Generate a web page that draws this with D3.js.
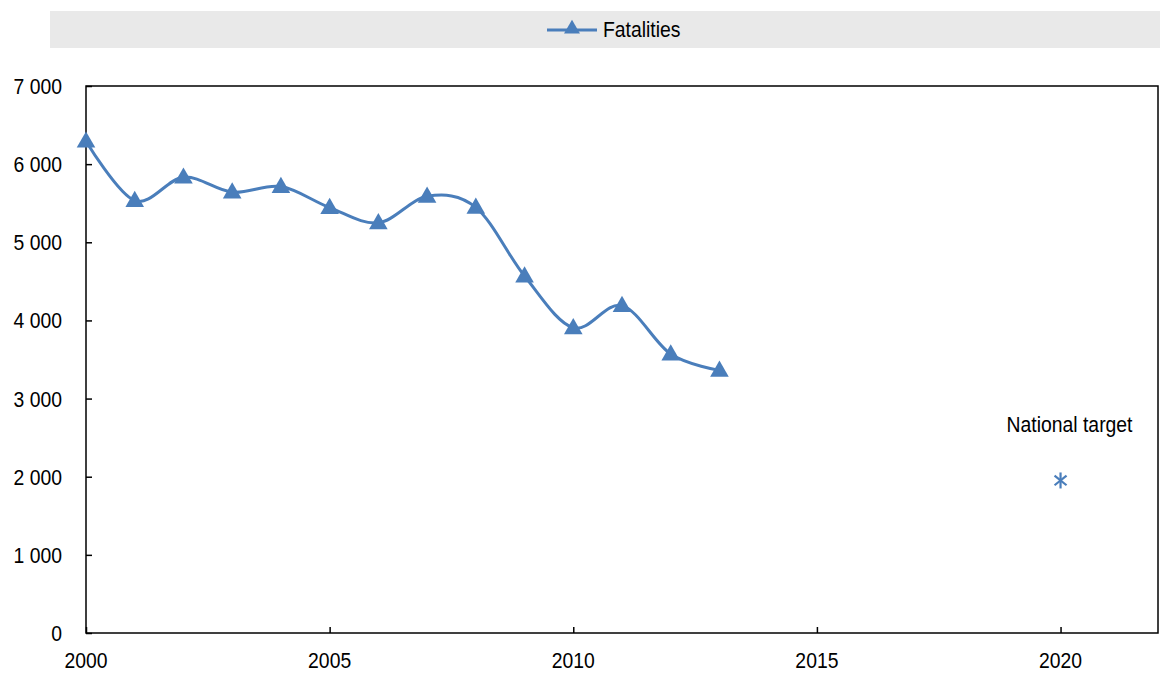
<!DOCTYPE html>
<html><head><meta charset="utf-8">
<script src="https://cdn.jsdelivr.net/npm/d3@7"></script>
<style>
body{margin:0;background:#fff;}
svg text{font-family:"Liberation Sans Narrow","Arial Narrow","Liberation Sans",Arial,sans-serif;font-size:22px;fill:#000;}
</style></head><body>
<svg id="c" width="1160" height="673"></svg>
<script>
const years = [2000,2001,2002,2003,2004,2005,2006,2007,2008,2009,2010,2011,2012,2013];
const fatalities = [6294,5534,5833,5642,5713,5444,5249,5588,5447,4568,3906,4190,3570,3361];
const targetYear = [2020];
const targetValue = [1952];
const xTicks = [2000,2005,2010,2015,2020];
const yTicks = [0,1000,2000,3000,4000,5000,6000,7000];
const seriesName = "Fatalities";
const targetLabel = "National target";
const color = "#4a7ebb";

const svg = d3.select("#c");
const L=86, R=1158, T=86, B=633;
const x = d3.scaleLinear().domain([2000,2022]).range([L,R]);
const y = d3.scaleLinear().domain([0,7000]).range([B,T]);
const fmt = v => d3.format(",")(v).replace(/,/g," ");

// legend band
svg.append("rect").attr("x",50).attr("y",11).attr("width",1110).attr("height",37).attr("fill","#e9e9e9");
svg.append("line").attr("x1",547).attr("x2",597).attr("y1",30).attr("y2",30).attr("stroke",color).attr("stroke-width",3);
svg.append("path").attr("d",d3.symbol(d3.symbolTriangle,110)()).attr("transform","translate(572,29)").attr("fill",color);
svg.append("text").attr("x",603).attr("y",37).text(seriesName);

// axes frame
svg.append("rect").attr("x",L).attr("y",T).attr("width",R-L).attr("height",B-T).attr("fill","none").attr("stroke","#000").attr("stroke-width",1.5);

const yAxis = svg.append("g").attr("transform",`translate(${L},0)`)
  .call(d3.axisRight(y).tickValues(yTicks).tickSize(6).tickFormat(""));
yAxis.select(".domain").remove();
yAxis.selectAll("line").attr("stroke","#000").attr("stroke-width",1.5);
svg.selectAll(".ylab").data(yTicks).enter().append("text")
  .attr("x",L-24).attr("y",d=>y(d)+8).attr("text-anchor","end").text(fmt);

const xAxis = svg.append("g").attr("transform",`translate(0,${B})`)
  .call(d3.axisTop(x).tickValues(xTicks).tickSize(6).tickFormat(""));
xAxis.select(".domain").remove();
xAxis.selectAll("line").attr("stroke","#000").attr("stroke-width",1.5);
svg.selectAll(".xlab").data(xTicks).enter().append("text")
  .attr("x",d=>x(d)).attr("y",B+35).attr("text-anchor","middle").text(d=>d);

// line
const data = years.map((d,i)=>({yr:d,v:fatalities[i]}));
svg.append("path").datum(data)
  .attr("d",d3.line().x(d=>x(d.yr)).y(d=>y(d.v)).curve(d3.curveCardinal.tension(0)))
  .attr("fill","none").attr("stroke",color).attr("stroke-width",3);
svg.selectAll(".m").data(data).enter().append("path")
  .attr("d",d3.symbol(d3.symbolTriangle,150)())
  .attr("transform",d=>`translate(${x(d.yr)},${y(d.v)+1})`).attr("fill",color);

// target
targetYear.forEach((ty,i)=>{
  const cx=x(ty), cy=y(targetValue[i]), s=8;
  const g=svg.append("g").attr("stroke",color).attr("stroke-width",2.2);
  g.append("line").attr("x1",cx).attr("x2",cx).attr("y1",cy-s).attr("y2",cy+s);
  g.append("line").attr("x1",cx-s*0.75).attr("x2",cx+s*0.75).attr("y1",cy-s*0.6).attr("y2",cy+s*0.6);
  g.append("line").attr("x1",cx-s*0.75).attr("x2",cx+s*0.75).attr("y1",cy+s*0.6).attr("y2",cy-s*0.6);
  svg.append("text").attr("x",cx+9).attr("y",cy-48).attr("text-anchor","middle").text(targetLabel);
});

// condense text to mimic narrow font
svg.selectAll("text").each(function(){
  const w=this.getComputedTextLength();
  d3.select(this).attr("textLength",w*0.88).attr("lengthAdjust","spacingAndGlyphs");
});
</script></body></html>
